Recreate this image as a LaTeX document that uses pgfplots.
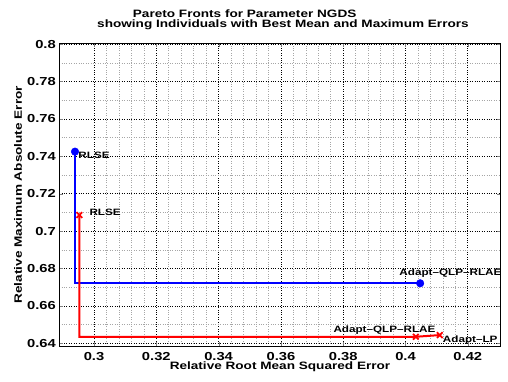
\documentclass[border=0pt]{standalone}
\usepackage{fontspec}
\setmainfont{Liberation Sans}[FakeStretch=1.27]
\usepackage{pgfplots}
\pgfplotsset{compat=1.18}

\begin{document}
\begin{tikzpicture}[x=1pt,y=1pt]
\path[use as bounding box] (0,0) rectangle (508,381);
\begin{axis}[
  at={(59.3pt,35pt)}, anchor=south west,
  scale only axis, width=441.4pt, height=302.7pt,
  xmin=0.28886, xmax=0.43056,
  ymin=0.63856, ymax=0.80043,
  xtick={0.3,0.32,...,0.42},
  ytick={0.64,0.66,...,0.8},
  minor x tick num=4, minor y tick num=1,
  minor tick length=0pt,
  major tick length=4pt,
  tick align=inside,
  xtick pos=both, ytick pos=both,
  grid=both,
  major grid style={black, dotted, line width=0.7pt},
  minor grid style={gray!70, dotted, line width=0.6pt},
  axis line style={black, line width=1pt},
  /pgf/number format/assume math mode=true,
  /pgf/number format/fixed,
  /pgf/number format/precision=2,
  tick label style={font=\fontsize{11.6}{12}\selectfont\bfseries},
  xticklabel style={yshift=-2.5pt},
  xlabel={Relative Root Mean Squared Error},
  ylabel={Relative Maximum Absolute Error},
  label style={font=\fontsize{10.7}{12}\selectfont\bfseries},
  xlabel style={at={(axis description cs:0.5,-0.0694)}, anchor=center},
  ylabel style={at={(axis description cs:-0.0936,0.5)}, anchor=center},
  clip=false,
]
% Pareto front of the first population (blue)
\addplot[blue, line width=2pt] coordinates {
  (0.2939,0.7425) (0.2939,0.6721) (0.4047,0.6721)
};
\addplot[blue, only marks, mark=*, mark size=3.8pt] coordinates {
  (0.2939,0.7425) (0.4047,0.6721)
};
% Pareto front of the second population (red)
\addplot[red, line width=2pt] coordinates {
  (0.2953,0.7086) (0.2953,0.6435) (0.4033,0.6435) (0.4110,0.6444)
};
\addplot[red, only marks, mark=x, mark size=4pt, line width=1.8pt] coordinates {
  (0.2953,0.7086) (0.4033,0.6435) (0.4110,0.6444)
};
% Labels of the best-mean and best-maximum individuals
\begin{scope}[every node/.style={font=\fontsize{9.2}{10}\selectfont\bfseries, inner sep=0pt}]
\node[anchor=west] at (axis cs:0.2939,0.7425) [xshift=3.3pt, yshift=-4pt] {RLSE};
\node[anchor=west] at (axis cs:0.2953,0.7086) [xshift=10pt, yshift=2.3pt] {RLSE};
\node[anchor=center] at (axis cs:0.4047,0.6721) [xshift=30.3pt, yshift=10pt] {Adapt\textendash QLP\textendash RLAE};
\node[anchor=center] at (axis cs:0.4033,0.6435) [xshift=-31.3pt, yshift=6.7pt] {Adapt\textendash QLP\textendash RLAE};
\node[anchor=west] at (axis cs:0.4110,0.6444) [xshift=3pt, yshift=-5pt] {Adapt\textendash LP};
\end{scope}
\end{axis}
% Two-line title
\node[font=\fontsize{10.7}{12}\selectfont\bfseries, inner sep=0pt, anchor=west] at (132.7,367.7) {Pareto Fronts for Parameter NGDS};
\node[font=\fontsize{10.7}{12}\selectfont\bfseries, inner sep=0pt, anchor=west] at (97,356) {showing Individuals with Best Mean and Maximum Errors};
\end{tikzpicture}
\end{document}
